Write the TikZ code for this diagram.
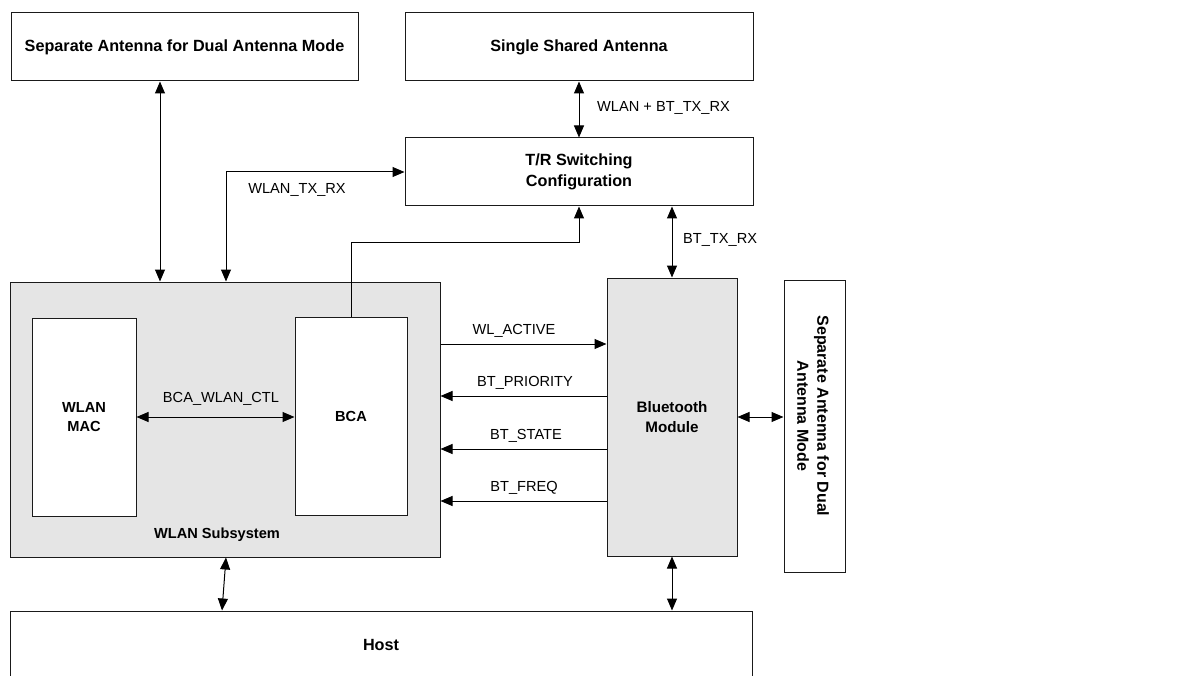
\documentclass[tikz,border=0pt]{standalone}
\usepackage{fontspec}
\setmainfont{Liberation Sans}
\usetikzlibrary{arrows.meta}
\definecolor{boxgray}{HTML}{E5E5E5}
\definecolor{edge}{HTML}{1A1A1A}
\tikzset{
  box/.style={draw=edge, line width=1pt, fill=white, inner sep=2pt, align=center,
    font=\fontsize{16.2}{20.5}\selectfont\bfseries},
  inbox/.style={box, font=\fontsize{14.6}{18.5}\selectfont\bfseries},
  graybox/.style={box, fill=boxgray},
  lbl/.style={font=\fontsize{14.6}{17}\selectfont, inner sep=0pt},
  conn/.style={line width=1pt, draw=black, -{Triangle[length=12pt,width=10pt]}},
  dconn/.style={line width=1pt, draw=black, {Triangle[length=12pt,width=10pt]}-{Triangle[length=12pt,width=10pt]}},
  plain/.style={line width=1pt, draw=black}
}
\begin{document}
\begin{tikzpicture}[x=1pt,y=-1pt]
\useasboundingbox (0,0) rectangle (1193,676);
\clip (0,0) rectangle (1193,676);
\fill[white] (0,0) rectangle (1193,676);
% boxes
\node[box, minimum width=347pt, minimum height=68pt] (sep) at (184.5,47) {Separate Antenna for Dual Antenna Mode};
\node[box, minimum width=348pt, minimum height=68pt] (single) at (579,47) {Single Shared Antenna};
\node[box, minimum width=348pt, minimum height=68pt] (tr) at (579,172) {T/R Switching\\Configuration};
\node[graybox, minimum width=430pt, minimum height=275pt] (wlan) at (225,419.5) {};
\node[inbox, minimum width=104pt, minimum height=198pt] (mac) at (84,417) {WLAN\\MAC};
\node[inbox, minimum width=112pt, minimum height=198pt] (bca) at (351,416) {BCA};
\node[font=\fontsize{14.6}{17}\selectfont\bfseries, inner sep=0pt] (wlanlbl) at (217,535) {WLAN Subsystem};
\node[graybox, font=\fontsize{15.2}{19.5}\selectfont\bfseries, minimum width=130pt, minimum height=278pt] (bt) at (672,417) {Bluetooth\\Module};
\node[box, minimum width=61pt, minimum height=292pt] (ant2) at (814.5,426) {};
\node[font=\fontsize{16}{20}\selectfont\bfseries, align=center, rotate=-90, inner sep=0pt] (ant2txt) at (813,416) {Separate Antenna for Dual\\Antenna Mode};
\node[box, minimum width=742pt, minimum height=68pt] (host) at (381,645) {Host};
% connectors
\draw[dconn] ([xshift=-24.5pt]sep.south) -- ([xshift=-65pt]wlan.north);
\draw[dconn] ([xshift=1pt]wlan.north) |- (tr.west);
\node[lbl] (l1) at (297,190) {WLAN\_TX\_RX};
\draw[conn] (bca.north) -- ++(0,-74) -| (tr.south);
\draw[dconn] (single.south) -- (tr.north);
\node[lbl, anchor=west] (l2) at (597,108) {WLAN + BT\_TX\_RX};
\draw[dconn] ([xshift=93pt]tr.south) -- (bt.north);
\node[lbl, anchor=west] (l3) at (683,240) {BT\_TX\_RX};
\coordinate (wa) at ([yshift=75.5pt]wlan.east);
\draw[conn] (wa) -- (wa -| bt.west);
\node[lbl] (l4) at (514,331) {WL\_ACTIVE};
\coordinate (bp) at ([yshift=21pt]bt.west);
\draw[conn] (bp) -- (bp -| wlan.east);
\node[lbl] (l5) at (525,383) {BT\_PRIORITY};
\coordinate (bs) at ([yshift=-32pt]bt.west);
\draw[conn] (bs) -- (bs -| wlan.east);
\node[lbl] (l6) at (526,436) {BT\_STATE};
\coordinate (bf) at ([yshift=-84pt]bt.west);
\draw[conn] (bf) -- (bf -| wlan.east);
\node[lbl] (l7) at (524,488) {BT\_FREQ};
\draw[dconn] (bt.east) -- (bt.east -| ant2.west);
\draw[dconn] (mac.east) -- (mac.east -| bca.west);
\node[lbl] (l8) at (221,399) {BCA\_WLAN\_CTL};
\draw[dconn] ([xshift=1pt]wlan.south) -- ([xshift=-159pt]host.north);
\draw[dconn] (bt.south) -- (bt.south |- host.north);
\end{tikzpicture}
\end{document}
